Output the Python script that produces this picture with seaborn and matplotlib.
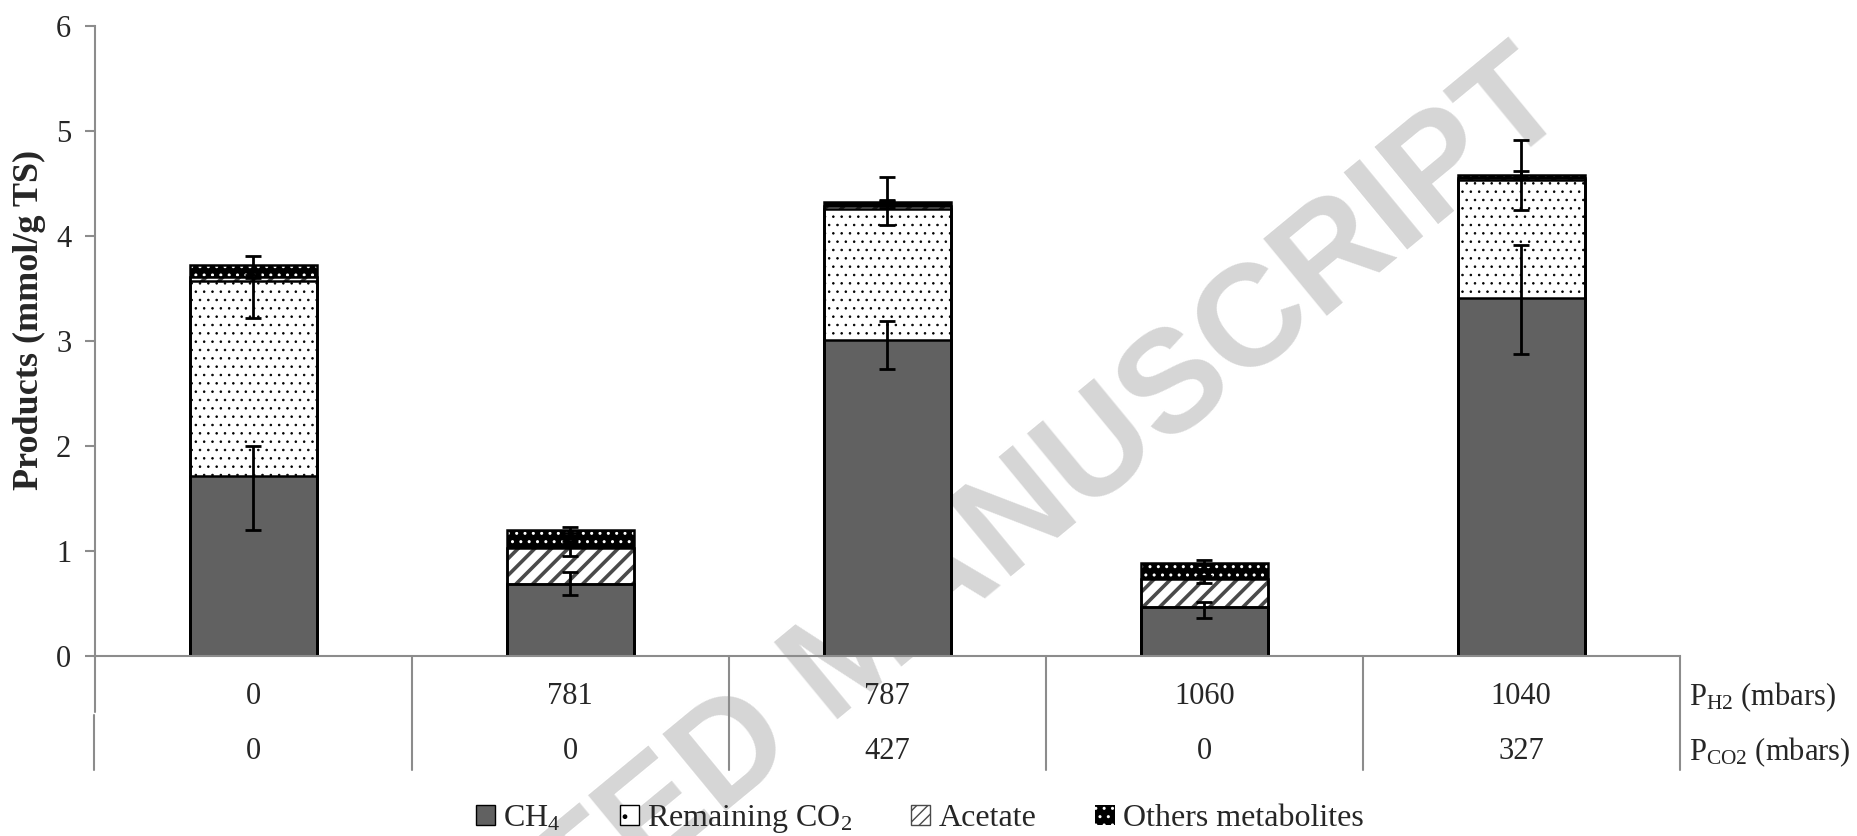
import numpy as np
import pandas as pd
import matplotlib.pyplot as plt
import matplotlib.patches as mpatches
import seaborn as sns

# conditions (table under the x axis)
p_h2 = ["0", "781", "787", "1060", "1040"]
p_co2 = ["0", "0", "427", "0", "327"]

# stacked products (mmol/g TS)
ch4 = [1.71, 0.69, 3.01, 0.465, 3.41]
co2 = [1.86, 0.0, 1.25, 0.0, 1.12]
acetate = [0.04, 0.34, 0.03, 0.265, 0.02]
others = [0.11, 0.17, 0.03, 0.16, 0.03]

# error bars (minus / plus), drawn at the top of each stacked segment
ch4_lo = [0.51, 0.11, 0.28, 0.105, 0.53]
ch4_hi = [0.29, 0.11, 0.18, 0.05, 0.50]
co2_lo = [0.35, 0.0, 0.155, 0.0, 0.28]
co2_hi = [0.03, 0.0, 0.07, 0.0, 0.09]
ace_lo = [0.0, 0.075, 0.02, 0.03, 0.0]
ace_hi = [0.0, 0.07, 0.05, 0.03, 0.0]
oth_lo = [0.09, 0.03, 0.02, 0.02, 0.03]
oth_hi = [0.09, 0.025, 0.24, 0.02, 0.33]

sns.set_style("white")
plt.rcParams["font.family"] = ["Liberation Serif", "DejaVu Serif"]
plt.rcParams["mathtext.fontset"] = "custom"
plt.rcParams["mathtext.rm"] = "Liberation Serif"
plt.rcParams["mathtext.it"] = "Liberation Serif:italic"

FS = 22
GRAY = "#8c8c8c"
DARK = "#616161"

df = pd.DataFrame({"pos": range(5), "ch4": ch4, "co2": co2,
                   "acetate": acetate, "others": others})
df["lvl1"] = df["ch4"]
df["lvl2"] = df["lvl1"] + df["co2"]
df["lvl3"] = df["lvl2"] + df["acetate"]
df["lvl4"] = df["lvl3"] + df["others"]

fig, ax = plt.subplots(figsize=(18.58, 8.36), dpi=100)
fig.subplots_adjust(left=0.0511, right=0.904, bottom=0.2153, top=0.9689)
ax.patch.set_alpha(0)

# watermark
fig.text(0.834, 0.9, "ACCEPTED MANUSCRIPT", rotation=39.5, rotation_mode="anchor",
         ha="right", va="center", fontsize=104, color="#d6d6d6",
         family="Liberation Sans", weight="bold", zorder=-1)

# back-to-front cumulative layers: (column, face, hatch colour, hatch, hatch lw)
layers = [
    ("lvl4", "black", "white", "..", 1.0),
    ("lvl3", "white", "#4a4a4a", "//", 2.6),
    ("lvl2", "white", "black", "..", 0.6),
    ("lvl1", DARK, DARK, None, 1.0),
]
for col, face, hcol, hatch, hlw in layers:
    with plt.rc_context({"hatch.linewidth": hlw}):
        sns.barplot(data=df, x="pos", y=col, color=face, saturation=1, width=0.4,
                    errorbar=None, edgecolor=hcol, linewidth=0, hatch=hatch, ax=ax)
    for p in ax.containers[-1]:
        ax.add_patch(mpatches.Rectangle(p.get_xy(), p.get_width(), p.get_height(),
                                        fill=False, ec="black", lw=1.8, zorder=2.5))

# error bars
x = np.arange(5)
segs = [(df["lvl1"], ch4_lo, ch4_hi), (df["lvl2"], co2_lo, co2_hi),
        (df["lvl3"], ace_lo, ace_hi), (df["lvl4"], oth_lo, oth_hi)]
for top, lo, hi in segs:
    lo = np.array(lo); hi = np.array(hi)
    m = (lo + hi) > 0
    ax.errorbar(x[m], np.array(top)[m], yerr=[lo[m], hi[m]], fmt="none",
                ecolor="black", elinewidth=2, capsize=6, capthick=2, zorder=4)

ax.set_xlim(-0.5, 4.5)
ax.set_ylim(0, 6)
ax.set_yticks(range(7))
ax.set_xticks([])
ax.set_xlabel("")
ax.set_ylabel("Products (mmol/g TS)", fontsize=26, weight="bold")
ax.yaxis.set_label_coords(-0.031, 0.534)
ax.tick_params(axis="y", labelsize=FS, length=7, width=1.5, color=GRAY, left=True, pad=10)
sns.despine(ax=ax)
for s in ["left", "bottom"]:
    ax.spines[s].set_color(GRAY)
    ax.spines[s].set_linewidth(1.5)

# table below the axis
trans = ax.get_xaxis_transform()
for xs in [0.5, 1.5, 2.5, 3.5, 4.5]:
    ax.plot([xs, xs], [0, -0.181], transform=trans, color=GRAY, lw=1.5, clip_on=False)
ax.plot([-0.5, -0.5], [0, -0.089], transform=trans, color=GRAY, lw=1.5, clip_on=False)
ax.plot([-0.503, -0.503], [-0.094, -0.181], transform=trans, color=GRAY, lw=1.5, clip_on=False)
for i in range(5):
    ax.text(i, -0.065, p_h2[i], transform=trans, ha="center", va="center", fontsize=FS)
    ax.text(i, -0.152, p_co2[i], transform=trans, ha="center", va="center", fontsize=FS)
ax.text(4.53, -0.065, r"P$_{\mathrm{H2}}$ (mbars)", transform=trans, ha="left", va="center", fontsize=FS)
ax.text(4.53, -0.152, r"P$_{\mathrm{CO2}}$ (mbars)", transform=trans, ha="left", va="center", fontsize=FS)

# legend
handles = [
    mpatches.Patch(facecolor=DARK, edgecolor="black", lw=1),
    mpatches.Patch(facecolor="white", edgecolor="black", hatch=".", lw=1),
    mpatches.Patch(facecolor="white", edgecolor="#4a4a4a", hatch="///", lw=1),
    mpatches.Patch(facecolor="black", edgecolor="white", hatch="..", lw=0),
]
labels = [r"CH$_4$", r"Remaining CO$_2$", "Acetate", "Others metabolites"]
fig.legend(handles, labels, loc="center", bbox_to_anchor=(0.495, 0.02), ncol=4,
           frameon=False, fontsize=23, handlelength=0.6, handleheight=0.6,
           handletextpad=0.25, columnspacing=1.85)

fig.savefig("out.png", dpi=100)
